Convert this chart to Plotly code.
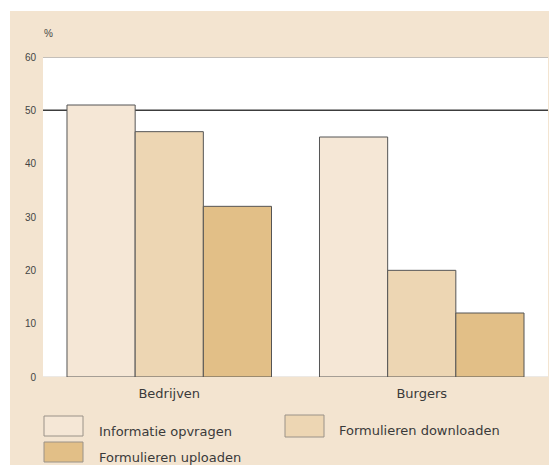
import plotly.graph_objects as go

# Share of internet use per activity, by group
categories = ["Bedrijven", "Burgers"]
series_names = ["Informatie opvragen", "Formulieren downloaden", "Formulieren uploaden"]
series_values = [
    [51, 45],   # Informatie opvragen
    [46, 20],   # Formulieren downloaden
    [32, 12],   # Formulieren uploaden
]
series_colors = ["#F5E7D6", "#EDD6B3", "#E2BF87"]
y_ticks = [0, 10, 20, 30, 40, 50, 60]

W, H = 549, 468
L, R, T, B = 43, 1, 57, 91
PW, PH = W - L - R, H - T - B

def px_x(p):
    return (p - L) / PW

def px_y(p):
    return (H - B - p) / PH

fig = go.Figure()
for name, vals, col in zip(series_names, series_values, series_colors):
    fig.add_trace(go.Bar(
        x=categories, y=vals, name=name,
        marker=dict(color=col, line=dict(color="#555555", width=1)),
        showlegend=False,
    ))

shapes = [
    # beige panel behind everything
    dict(type="rect", xref="paper", yref="paper", layer="below",
         x0=px_x(10), x1=px_x(549), y0=px_y(465), y1=px_y(11),
         fillcolor="#F3E4D0", line=dict(width=0)),
    # white plotting area
    dict(type="rect", xref="paper", yref="paper", layer="below",
         x0=0, x1=1, y0=0, y1=1, fillcolor="white", line=dict(width=0)),
    # reference lines
    dict(type="line", xref="paper", yref="y", layer="below",
         x0=0, x1=1, y0=60, y1=60, line=dict(color="#b0aaa2", width=1.5)),
    dict(type="line", xref="paper", yref="y", layer="below",
         x0=0, x1=1, y0=50, y1=50, line=dict(color="#3c3c3c", width=1.5)),
    dict(type="line", xref="paper", yref="y", layer="below",
         x0=0, x1=1, y0=0, y1=0, line=dict(color="#d8d2ca", width=1)),
]

annotations = [
    dict(text="%", xref="paper", yref="paper", x=px_x(48), y=px_y(33),
         xanchor="center", yanchor="middle", showarrow=False,
         font=dict(family="Liberation Sans", size=10, color="#444")),
]

# legend swatches and labels
legend_boxes = [
    ((44, 416, 83, 436), (97, 431)),
    ((285, 415, 324, 437), (337, 430)),
    ((44, 442, 83, 462), (97, 457)),
]
for name, col, (box, txt) in zip(series_names, series_colors, legend_boxes):
    x0, y0, x1, y1 = box
    shapes.append(dict(type="rect", xref="paper", yref="paper",
                       x0=px_x(x0), x1=px_x(x1), y0=px_y(y1), y1=px_y(y0),
                       fillcolor=col, line=dict(color="#9a9288", width=1)))
    annotations.append(dict(text=name, xref="paper", yref="paper",
                            x=px_x(txt[0]), y=px_y(txt[1]),
                            xanchor="left", yanchor="middle", showarrow=False,
                            font=dict(family="DejaVu Sans", size=13, color="#3a3a3a")))

fig.update_layout(
    width=W, height=H,
    margin=dict(l=L, r=R, t=T, b=B, autoexpand=False),
    paper_bgcolor="white", plot_bgcolor="white",
    barmode="group", bargap=0.19, bargroupgap=0,
    shapes=shapes, annotations=annotations,
    showlegend=False,
    xaxis=dict(showgrid=False, showline=False, zeroline=False, ticks="",
               tickfont=dict(family="DejaVu Sans", size=13, color="#3a3a3a"),
               ticklabelstandoff=7, fixedrange=True),
    yaxis=dict(range=[0, 60], tickvals=y_ticks, showgrid=False, zeroline=False,
               showline=False, ticks="",
               tickfont=dict(family="Liberation Sans", size=10, color="#444"),
               ticklabelstandoff=6, fixedrange=True),
)

fig.write_html("out.html")
